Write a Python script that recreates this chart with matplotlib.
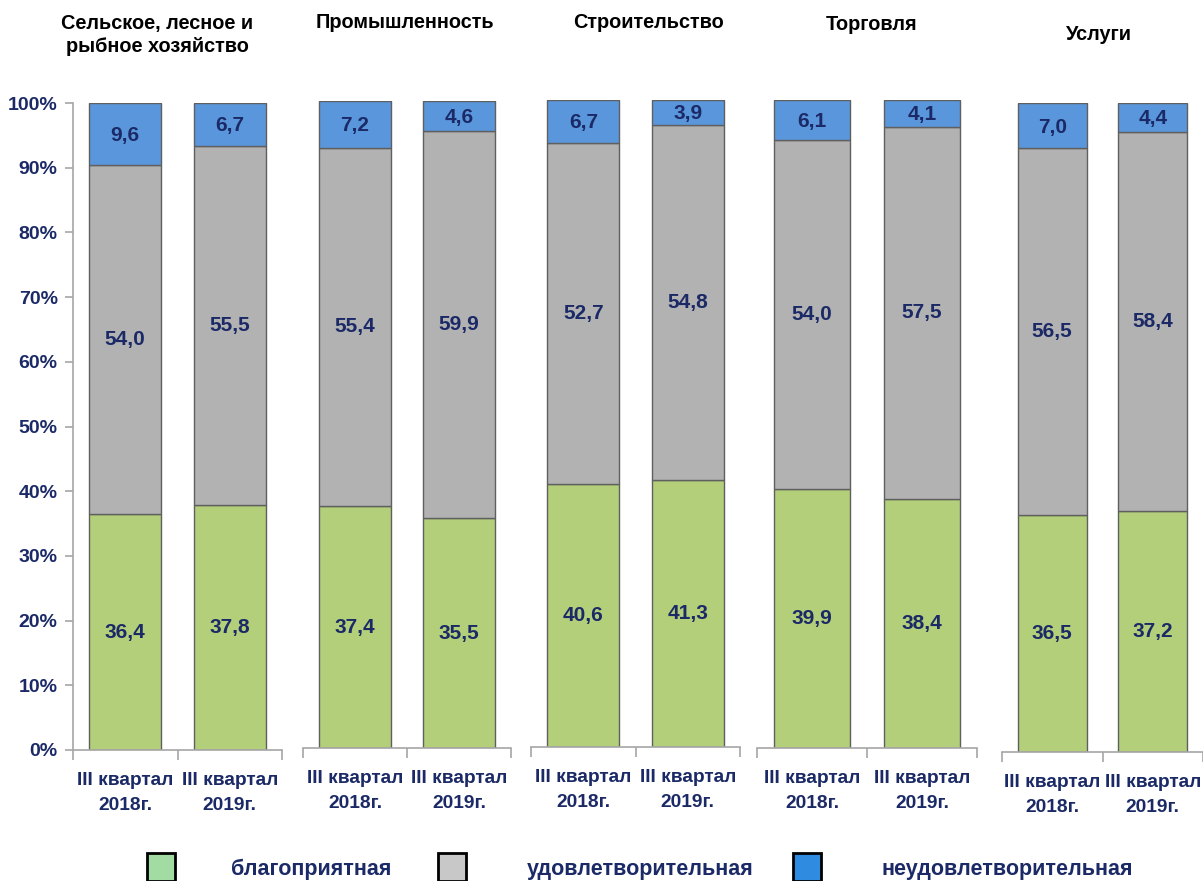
import matplotlib.pyplot as plt
from matplotlib.patches import Rectangle

plt.rcParams['font.family'] = ['Liberation Sans Narrow', 'Liberation Sans', 'DejaVu Sans']

# data
sectors = ['Сельское, лесное и\nрыбное хозяйство', 'Промышленность', 'Строительство',
           'Торговля', 'Услуги']
periods = ['III квартал\n2018г.', 'III квартал\n2019г.']
favorable = [[36.4, 37.8], [37.4, 35.5], [40.6, 41.3], [39.9, 38.4], [36.5, 37.2]]
satisfactory = [[54.0, 55.5], [55.4, 59.9], [52.7, 54.8], [54.0, 57.5], [56.5, 58.4]]
unsatisfactory = [[9.6, 6.7], [7.2, 4.6], [6.7, 3.9], [6.1, 4.1], [7.0, 4.4]]
legend_labels = ['благоприятная', 'удовлетворительная', 'неудовлетворительная']
y_ticks = [0, 10, 20, 30, 40, 50, 60, 70, 80, 90, 100]

W, H = 1203, 881
fig = plt.figure(figsize=(W / 100, H / 100), dpi=100)

navy = '#1b2a66'
c_green, c_gray, c_blue = '#b3cf7a', '#b2b2b2', '#5a96dc'
edge = '#5f5f5f'
spine_c = '#a6a6a6'

# axes boxes in pixels: left, right, top(100%), bottom(0%)
boxes = [(73, 282, 103, 750), (303, 511, 101, 748), (531, 740, 100, 747),
         (757, 977, 100, 748), (1002, 1203, 103, 752)]
title_pos = [(157, 35), (405, 22), (648, 22), (872, 25), (1099, 35)]


def fmt(v):
    return f'{v:.1f}'.replace('.', ',')


for i, (l, r, t, b) in enumerate(boxes):
    ax = fig.add_axes([l / W, 1 - b / H, (r - l) / W, (b - t) / H])
    x = [0, 1]
    g = favorable[i]
    s = satisfactory[i]
    u = unsatisfactory[i]
    bot2 = [g[k] + s[k] for k in x]
    ax.bar(x, g, width=0.69, color=c_green, edgecolor=edge, linewidth=1)
    ax.bar(x, s, bottom=g, width=0.69, color=c_gray, edgecolor=edge, linewidth=1)
    ax.bar(x, u, bottom=bot2, width=0.69, color=c_blue, edgecolor=edge, linewidth=1)
    for k in x:
        ax.text(k, g[k] / 2, fmt(g[k]), ha='center', va='center',
                color=navy, fontsize=15, fontweight='bold')
        ax.text(k, g[k] + s[k] / 2, fmt(s[k]), ha='center',
                va='center', color=navy, fontsize=15, fontweight='bold')
        ax.text(k, bot2[k] + u[k] / 2 - 0.2, fmt(u[k]),
                ha='center', va='center', color=navy, fontsize=15, fontweight='bold')
    ax.set_xlim(-0.5, 1.5)
    ax.set_ylim(0, 100)
    ax.set_xticks(x)
    ax.set_xticklabels(periods, color=navy, fontsize=13.8, fontweight='bold',
                       linespacing=1.6)
    ax.set_xticks([-0.5, 0.5, 1.5], minor=True)
    ax.tick_params(axis='x', which='major', length=0, pad=16)
    ax.tick_params(axis='x', which='minor', length=7, color=spine_c, width=1.2)
    for sp in ['top', 'right']:
        ax.spines[sp].set_visible(False)
    ax.spines['bottom'].set_color(spine_c)
    ax.spines['bottom'].set_linewidth(1.2)
    if i == 0:
        ax.set_yticks(y_ticks)
        ax.set_yticklabels([f'{v}%' for v in y_ticks], color=navy, fontsize=14,
                           fontweight='bold')
        ax.tick_params(axis='y', length=6, color=spine_c, width=1.2, pad=5)
        ax.spines['left'].set_color(spine_c)
        ax.spines['left'].set_linewidth(1.2)
    else:
        ax.set_yticks([])
        ax.spines['left'].set_visible(False)
    tx, ty = title_pos[i]
    fig.text(tx / W, 1 - ty / H, sectors[i], ha='center', va='center', fontsize=14.3,
             fontweight='bold', color='black', linespacing=1.25)

# legend
leg_colors = ['#a3dca3', '#c8c8c8', '#2e8be0']
leg_box_x = [147, 438, 793]
leg_text_x = [311, 640, 1007]
for k in range(3):
    fig.patches.append(Rectangle((leg_box_x[k] / W, 0), 28 / W, 28 / H,
                                 transform=fig.transFigure, facecolor=leg_colors[k],
                                 edgecolor='black', linewidth=2))
    fig.text(leg_text_x[k] / W, 1 - 869 / H, legend_labels[k], ha='center', va='center',
             fontsize=15.5, fontweight='bold', color=navy)

fig.savefig('out.png', dpi=100)
